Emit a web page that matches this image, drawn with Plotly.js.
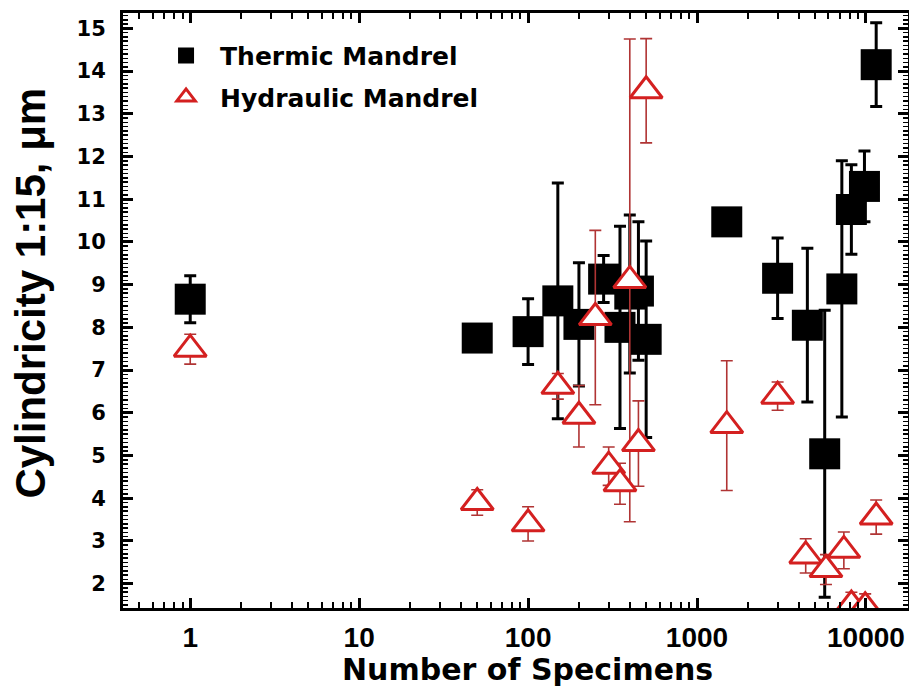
<!DOCTYPE html>
<html>
<head>
<meta charset="utf-8">
<script src="https://cdn.plot.ly/plotly-3.0.1.min.js"></script>
<style>html,body{margin:0;padding:0;background:#fff;}</style>
</head>
<body>
<div id="chart" style="width:909px;height:692px;"></div>
<script>
// Thermic Mandrel (black squares)
const thermX   = [1, 50, 100, 150, 200, 280, 350, 400, 450, 500, 1500, 3000, 4500, 5700, 7200, 8200, 9800, 11500];
const thermY   = [8.66, 7.75, 7.9, 8.62, 8.07, 9.13, 8.0, 8.78, 8.85, 7.72, 10.47, 9.15, 8.05, 5.04, 8.9, 10.76, 11.3, 14.15];
const thermErr = [0.55, 0.15, 0.77, 2.76, 1.44, 0.55, 2.37, 1.85, 1.62, 2.3, 0.15, 0.94, 1.8, 3.36, 3.0, 1.05, 0.83, 0.98];

// Hydraulic Mandrel (red open triangles)
const hydX   = [1, 50, 100, 150, 200, 250, 300, 350, 400, 450, 500, 1500, 3000, 4400, 5800, 7400, 8200, 9900, 11500];
const hydY   = [7.49, 3.9, 3.4, 6.62, 5.92, 8.23, 4.75, 4.34, 9.1, 5.28, 13.54, 5.7, 6.39, 2.65, 2.33, 2.78, 1.5, 1.46, 3.56];
const hydErr = [0.35, 0.3, 0.4, 0.3, 0.72, 2.04, 0.45, 0.48, 5.65, 1.0, 1.22, 1.52, 0.33, 0.4, 0.35, 0.43, 0.3, 0.3, 0.4];

const seriesNames = ['Thermic Mandrel', 'Hydraulic Mandrel'];
const xTickVals = [1, 10, 100, 1000, 10000];
const xTickText = ['1', '10', '100', '1000', '10000'];
const xTitle = 'Number of Specimens';
const yTitle = 'Cylindricity 1:15, \u03bcm';

// minor log ticks (digits 2..9 of each decade)
const xMinorTicks = [];
[0.1, 1, 10, 100, 1000, 10000].forEach(function (d) {
  for (let k = 2; k <= 9; k++) xMinorTicks.push(d * k);
});

const traces = [
  {
    x: thermX, y: thermY, name: seriesNames[0], type: 'scatter', mode: 'markers', legendgroup: 'g1',
    marker: {symbol: 'square', size: 31, color: '#000000', line: {width: 0}},
    error_y: {type: 'data', array: thermErr, visible: true, color: '#000000', thickness: 3, width: 6}
  },
  {
    x: hydX, y: hydY, name: seriesNames[1], type: 'scatter', mode: 'markers', legendgroup: 'g2',
    marker: {symbol: 'triangle-up', size: 28, color: '#ffffff', line: {width: 3, color: '#d42020'}},
    error_y: {type: 'data', array: hydErr, visible: true, color: '#b03434', thickness: 1.6, width: 6}
  }
];

const layout = {
  width: 909, height: 692,
  margin: {l: 123, r: 1, t: 13, b: 84},
  paper_bgcolor: '#ffffff', plot_bgcolor: '#ffffff',
  showlegend: true,
  legend: {
    x: 0.037, y: 0.967, xanchor: 'left', yanchor: 'top',
    traceorder: 'grouped', tracegroupgap: 6,
    bgcolor: 'rgba(0,0,0,0)', borderwidth: 0, itemwidth: 58,
    font: {family: 'DejaVu Sans', size: 25, color: '#000', weight: 'bold'}
  },
  xaxis: {
    type: 'log', range: [-0.398, 4.249],
    tickmode: 'array', tickvals: xTickVals, ticktext: xTickText,
    ticks: 'inside', ticklen: 10, tickwidth: 3, tickcolor: '#000',
    showline: true, linewidth: 3, linecolor: '#000', mirror: 'allticks',
    showgrid: false, zeroline: false,
    minor: {tickmode: 'array', tickvals: xMinorTicks, ticks: 'inside', ticklen: 6, tickwidth: 2, tickcolor: '#000', showgrid: false},
    tickfont: {family: 'Liberation Sans', size: 28, color: '#000', weight: 'bold'},
    ticklabelstandoff: 2, ticklabeloverflow: 'allow'
  },
  yaxis: {
    range: [1.43, 15.36], tickmode: 'linear', tick0: 0, dtick: 1,
    ticks: 'inside', ticklen: 10, tickwidth: 3, tickcolor: '#000',
    showline: true, linewidth: 3, linecolor: '#000', mirror: 'allticks',
    showgrid: false, zeroline: false,
    minor: {dtick: 0.1, ticks: 'inside', ticklen: 5, tickwidth: 1.5, tickcolor: '#000', showgrid: false},
    tickfont: {family: 'DejaVu Sans', size: 21, color: '#000', weight: 'bold'},
    ticklabelstandoff: 10
  },
  annotations: [
    {
      text: xTitle, xref: 'paper', yref: 'paper', x: 0.515, y: -0.103,
      xanchor: 'center', yanchor: 'middle', showarrow: false,
      font: {family: 'DejaVu Sans', size: 30, color: '#000', weight: 'bold'}
    },
    {
      text: yTitle, xref: 'paper', yref: 'paper', x: -0.118, y: 0.529,
      xanchor: 'center', yanchor: 'middle', showarrow: false, textangle: -90,
      font: {family: 'Liberation Sans', size: 42, color: '#000', weight: 'bold'}
    }
  ]
};

Plotly.newPlot('chart', traces, layout, {displayModeBar: false, staticPlot: true});
</script>
</body>
</html>
